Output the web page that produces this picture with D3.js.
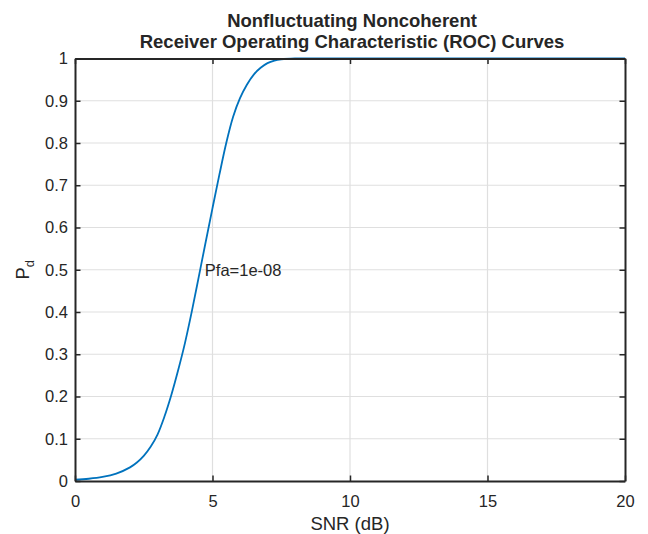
<!DOCTYPE html>
<html>
<head>
<meta charset="utf-8">
<script src="https://cdn.jsdelivr.net/npm/d3@7"></script>
<style>
  body { margin: 0; background: #fff; }
  text { font-family: "Liberation Sans", Arial, sans-serif; fill: #262626; }
</style>
</head>
<body>
<script>
// ROC curve: SNR (dB) vs Pd, Pfa = 1e-8
const snr = [0, 0.5, 1, 1.5, 2, 2.25, 2.5, 2.75, 3, 3.25, 3.5, 3.75, 4, 4.25, 4.5, 4.75, 5, 5.25, 5.5, 5.75, 6, 6.25, 6.5, 6.75, 7, 7.25, 7.5, 8, 9, 10, 12, 14, 16, 18, 20];
const pd = [0.003, 0.0053, 0.0096, 0.0176, 0.0323, 0.0438, 0.0595, 0.081, 0.110, 0.152, 0.203, 0.262, 0.327, 0.402, 0.483, 0.565, 0.646, 0.725, 0.800, 0.862, 0.906, 0.938, 0.962, 0.978, 0.989, 0.995, 0.998, 1, 1, 1, 1, 1, 1, 1, 1];
const xTicks = [0, 5, 10, 15, 20];
const yTicks = [0, 0.1, 0.2, 0.3, 0.4, 0.5, 0.6, 0.7, 0.8, 0.9, 1];
const titleLines = ["Nonfluctuating Noncoherent", "Receiver Operating Characteristic (ROC) Curves"];
const annotation = { x: 4.72, y: 0.5, text: "Pfa=1e-08" };

const width = 648;
const height = 534;
const marginLeft = 75;
const marginRight = 23;
const marginTop = 58.5;
const marginBottom = 53;
const axisColor = "#262626";

const svg = d3
  .select("body")
  .append("svg")
  .attr("width", width)
  .attr("height", height);

const xScale = d3
  .scaleLinear()
  .domain([0, 20])
  .range([marginLeft, width - marginRight]);
const yScale = d3
  .scaleLinear()
  .domain([0, 1])
  .range([height - marginBottom, marginTop]);

// grid
svg.append("g")
  .selectAll("line")
  .data(xTicks.slice(1, -1))
  .enter()
  .append("line")
  .attr("x1", d => xScale(d))
  .attr("x2", d => xScale(d))
  .attr("y1", yScale(0))
  .attr("y2", yScale(1))
  .attr("stroke", "#dfdfdf")
  .attr("stroke-width", 1.2);

svg.append("g")
  .selectAll("line")
  .data(yTicks.slice(1, -1))
  .enter()
  .append("line")
  .attr("x1", xScale(0))
  .attr("x2", xScale(20))
  .attr("y1", d => yScale(d))
  .attr("y2", d => yScale(d))
  .attr("stroke", "#dfdfdf")
  .attr("stroke-width", 1.2);

// curve
const line = d3.line()
  .x((d, i) => xScale(snr[i]))
  .y(d => yScale(d))
  .curve(d3.curveCatmullRom.alpha(0.5));

svg.append("path")
  .datum(pd)
  .attr("d", line)
  .attr("fill", "none")
  .attr("stroke", "#0072BD")
  .attr("stroke-width", 1.8);

// axes (ticks inward, box on)
const tickLen = 5.5;
const xAxis = d3.axisBottom(xScale).tickValues(xTicks).tickSizeInner(-tickLen).tickSizeOuter(0).tickPadding(14).tickFormat(d3.format("d"));
const xAxisTop = d3.axisTop(xScale).tickValues(xTicks).tickSizeInner(-tickLen).tickSizeOuter(0).tickFormat("");
const yAxis = d3.axisLeft(yScale).tickValues(yTicks).tickSizeInner(-tickLen).tickSizeOuter(0).tickPadding(14).tickFormat(d => d === 0 || d === 1 ? d3.format("d")(d) : d3.format(".1f")(d));
const yAxisRight = d3.axisRight(yScale).tickValues(yTicks).tickSizeInner(-tickLen).tickSizeOuter(0).tickFormat("");

function styleAxis(g) {
  g.select(".domain").attr("stroke", axisColor).attr("stroke-width", 2);
  g.selectAll(".tick line").attr("stroke", axisColor).attr("stroke-width", 1.5);
  g.selectAll(".tick text")
    .attr("fill", axisColor)
    .style("font-size", "16.5px")
    .style("font-family", "'Liberation Sans', Arial, sans-serif");
}

svg.append("g")
  .attr("transform", `translate(0, ${yScale(0)})`)
  .call(xAxis)
  .call(styleAxis);
svg.append("g")
  .attr("transform", `translate(0, ${yScale(1)})`)
  .call(xAxisTop)
  .call(styleAxis);
svg.append("g")
  .attr("transform", `translate(${xScale(0)}, 0)`)
  .call(yAxis)
  .call(styleAxis)
  .selectAll(".tick text")
  .attr("x", -7);
svg.append("g")
  .attr("transform", `translate(${xScale(20)}, 0)`)
  .call(yAxisRight)
  .call(styleAxis);

// annotation
svg.append("text")
  .attr("x", xScale(annotation.x))
  .attr("y", yScale(annotation.y))
  .attr("dy", "0.35em")
  .style("font-size", "16.5px")
  .text(annotation.text);

// title
svg.append("g")
  .selectAll("text")
  .data(titleLines)
  .enter()
  .append("text")
  .attr("x", (xScale(0) + xScale(20)) / 2 + 2)
  .attr("y", (d, i) => 26.5 + i * 21.8)
  .attr("text-anchor", "middle")
  .style("font-size", "18.5px")
  .style("font-weight", "bold")
  .attr("fill", "#000")
  .text(d => d);

// x label
svg.append("text")
  .attr("x", (xScale(0) + xScale(20)) / 2)
  .attr("y", 530)
  .attr("text-anchor", "middle")
  .style("font-size", "18.5px")
  .text("SNR (dB)");

// y label P_d
const ylab = svg.append("text")
  .attr("transform", `translate(29, ${yScale(0.5)}) rotate(-90)`)
  .attr("text-anchor", "middle")
  .style("font-size", "18.5px");
ylab.append("tspan").text("P");
ylab.append("tspan").attr("dy", 5).style("font-size", "13px").text("d");
</script>
</body>
</html>
